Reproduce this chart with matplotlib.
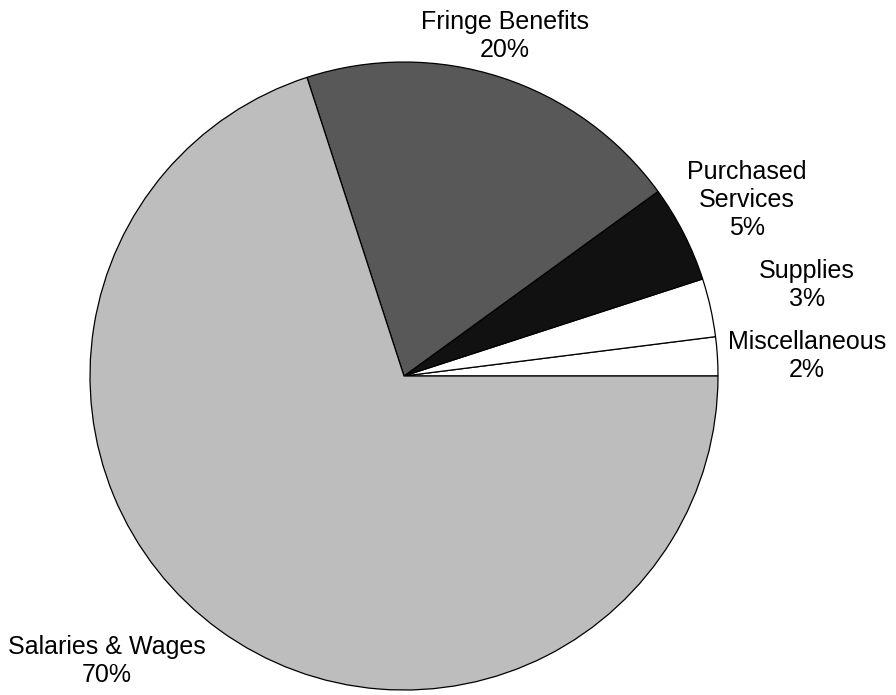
import matplotlib.pyplot as plt

# Data
categories = ['Miscellaneous', 'Supplies', 'Purchased\nServices', 'Fringe Benefits', 'Salaries & Wages']
shares = [2, 3, 5, 20, 70]
colors = ['#ffffff', '#ffffff', '#111111', '#585858', '#bdbdbd']

# label placement (data units, pie radius = 1)
label_pos = [(1.283, 0.064), (1.283, 0.290), (1.092, 0.561), (0.322, 1.083), (-0.946, -0.908)]

plt.rcParams['font.family'] = ['Liberation Sans', 'DejaVu Sans']

fig = plt.figure(figsize=(8.96, 6.95), dpi=100)
ax = fig.add_axes([0, 0, 1, 1])

ax.pie(shares, colors=colors, startangle=0, counterclock=True, radius=1.0,
       wedgeprops=dict(edgecolor='black', linewidth=0.9))

for name, val, (x, y) in zip(categories, shares, label_pos):
    ax.text(x, y, f'{name}\n{val}%', ha='center', va='center', fontsize=18,
            linespacing=1.2)

ax.set_xlim(-1.2866, 1.5669)
ax.set_ylim(-1.0159, 1.1975)
ax.set_aspect('equal')
ax.axis('off')

fig.savefig('out.png', dpi=100, facecolor='white')
